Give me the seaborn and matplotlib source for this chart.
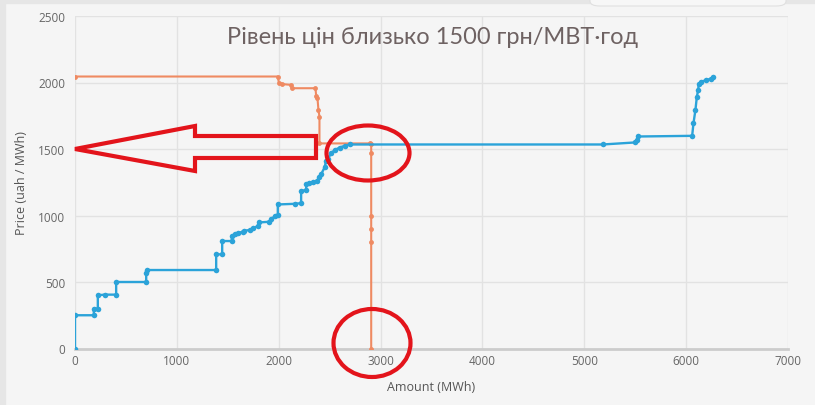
import pandas as pd
import matplotlib.pyplot as plt
import seaborn as sns
from matplotlib.patches import Polygon, Ellipse, Rectangle, FancyBboxPatch

# supply curve (blue) vertices
supply_amount = [0, 0, 185, 185, 224, 224, 290, 404, 404, 699, 699, 709, 1386, 1386,
                 1445, 1445, 1540, 1540, 1566, 1599, 1648, 1664, 1720, 1752, 1795, 1811,
                 1909, 1926, 1959, 1991, 1991, 2162, 2220, 2220, 2270, 2270, 2302, 2335,
                 2374, 2400, 2417, 2450, 2466, 2482, 2515, 2548, 2597, 2646, 2700,
                 5182, 5493, 5516, 5526, 6059, 6072, 6091, 6105, 6118, 6124, 6147,
                 6197, 6246, 6262]
supply_price = [0, 250, 250, 300, 300, 400, 405, 405, 500, 500, 570, 590, 590, 708,
                708, 808, 808, 848, 858, 868, 878, 885, 892, 903, 923, 948,
                953, 973, 993, 1003, 1083, 1088, 1093, 1183, 1193, 1234, 1243, 1253,
                1261, 1290, 1311, 1361, 1411, 1424, 1469, 1491, 1511, 1524, 1534,
                1534, 1549, 1569, 1594, 1599, 1694, 1792, 1892, 1942, 1992, 2007,
                2017, 2030, 2042]

# demand curve (orange)
demand_amount = [0, 1991, 2001, 2034, 2122, 2128, 2361, 2368, 2380, 2390, 2400, 2400,
                 2898, 2908, 2908, 2908, 2908, 2908, 2908]
demand_price = [2045, 2045, 2000, 1988, 1982, 1957, 1957, 1895, 1887, 1794, 1744, 1542,
                1542, 1536, 1469, 993, 898, 798, 0]

x_ticks = [0, 1000, 2000, 3000, 4000, 5000, 6000, 7000]
y_ticks = [0, 500, 1000, 1500, 2000, 2500]

title = "Рівень цін близько 1500 грн/МВТ·год"

sns.set_style("whitegrid")
plt.rcParams['font.family'] = ['Open Sans', 'DejaVu Sans']

W, H = 815, 406
fig = plt.figure(figsize=(W / 100, H / 100), dpi=100, facecolor='#f5f5f5')
ax = fig.add_axes([75 / W, 1 - 349.5 / H, (788 - 75) / W, (349.5 - 17) / H])
ax.set_facecolor('#f5f5f5')

supply = pd.DataFrame({'amount': supply_amount, 'price': supply_price})
demand = pd.DataFrame({'amount': demand_amount, 'price': demand_price})

sns.lineplot(data=demand, x='amount', y='price', sort=False, estimator=None,
             color='#ef8a62', lw=1.5, marker='o', markersize=3.5, markeredgewidth=0,
             ax=ax, zorder=3)
sns.lineplot(data=supply, x='amount', y='price', sort=False, estimator=None,
             color='#2ba3d9', lw=1.7, marker='o', markersize=4, markeredgewidth=0,
             ax=ax, zorder=4)

ax.set_xlim(0, 7000)
ax.set_ylim(0, 2500)
ax.set_xticks(x_ticks)
ax.set_yticks(y_ticks)
ax.grid(True, color='#e2e2e2', lw=1)
for s in ['top', 'right', 'left']:
    ax.spines[s].set_visible(False)
ax.spines['bottom'].set_color('#cccccc')
ax.spines['bottom'].set_linewidth(2)
ax.tick_params(axis='both', labelsize=8.5, colors='#cccccc', labelcolor='#666666',
               width=1)
ax.tick_params(axis='y', length=6, pad=1)
ax.tick_params(axis='x', length=3, pad=1)
ax.set_xlabel('Amount (MWh)', fontsize=9, color='#555555', labelpad=9)
ax.set_ylabel('Price (uah / MWh)', fontsize=9, color='#555555', labelpad=7)

fig.text(433 / W, 1 - 37 / H, title, ha='center', va='center', fontsize=17,
         color='#6e6262', family=['Lato', 'DejaVu Sans'])


def fx(px):
    return px / W


def fy(py):
    return 1 - py / H


# page chrome
fig.patches.append(Rectangle((0, 0), fx(5), 1, transform=fig.transFigure,
                             color='#e6e6e6', zorder=0))
fig.patches.append(Rectangle((0, fy(4)), 1, fy(0) - fy(4), transform=fig.transFigure,
                             color='#e6e6e6', zorder=0))
fig.patches.append(FancyBboxPatch((fx(590), fy(7)), fx(196), fy(0) - fy(7) + 0.05,
                                  boxstyle='round,pad=0,rounding_size=0.012',
                                  transform=fig.transFigure, fc='#f7f7f7',
                                  ec='#e0e0e0', lw=0.8, zorder=1))

# red annotations
red = '#e3141b'
arrow = [(75, 150), (195, 127), (195, 137), (316, 137), (316, 159), (195, 159), (195, 172)]
fig.patches.append(Polygon([(fx(a), fy(b)) for a, b in arrow], closed=True, fill=False,
                           ec=red, lw=3, joinstyle='miter', transform=fig.transFigure,
                           zorder=10))
for cx, cy, w, h in [(368, 154, 83, 55), (372, 344, 77, 68)]:
    fig.patches.append(Ellipse((fx(cx), fy(cy)), w / W, h / H, fill=False, ec=red,
                               lw=3, transform=fig.transFigure, zorder=10))

fig.savefig('out.png', dpi=100, facecolor=fig.get_facecolor())
